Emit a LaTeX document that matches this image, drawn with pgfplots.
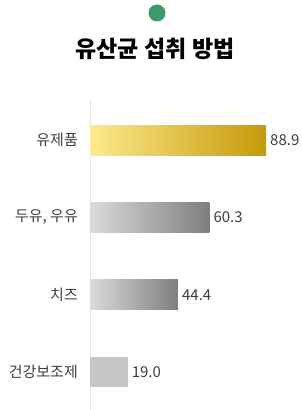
\documentclass[border=0pt]{standalone}
\usepackage{pgfplots}
\pgfplotsset{compat=1.18}
\usepackage{fontspec}
\setmainfont{Noto Sans CJK KR}
\definecolor{goldL}{HTML}{FDE98E}
\definecolor{goldM}{HTML}{F9D556}
\definecolor{goldR}{HTML}{C69A08}
\definecolor{grayL}{HTML}{DBDBDB}
\definecolor{grayM}{HTML}{BDBDBD}
\definecolor{grayR}{HTML}{7E7E7E}
\definecolor{grayF}{HTML}{C6C6C6}
\definecolor{txt}{HTML}{3E3E3E}
\definecolor{dot}{HTML}{3A9A6A}
\begin{document}
\begin{tikzpicture}
\path[use as bounding box] (0,0) rectangle (302bp,410bp);
\fill[dot] (157bp,397bp) circle (8.5bp);
\node[font=\fontsize{23bp}{26bp}\selectfont\bfseries, text=black] at (155bp,361bp) {유산균 섭취 방법};
\begin{axis}[
  scale only axis,
  width=198bp, height=310.7bp,
  anchor=north west, at={(90bp,310bp)},
  xmin=0, xmax=100,
  ymin=-0.52, ymax=3.5,
  y dir=reverse,
  axis x line=none,
  axis y line=left,
  y axis line style={-, draw=black!10, line width=1bp},
  ytick={0,1,2,3},
  yticklabels={유제품,{두유, 우유},치즈,건강보조제},
  major tick length=0pt,
  yticklabel style={font=\fontsize{15bp}{18bp}\selectfont, text=txt, anchor=east, inner sep=0pt, xshift=-12bp},
  xbar, bar width=30bp, bar shift=0pt,
  nodes near coords,
  nodes near coords style={font=\fontsize{15bp}{18bp}\selectfont, text=txt, anchor=west, inner sep=0pt, xshift=4bp, /pgf/number format/fixed, /pgf/number format/fixed zerofill, /pgf/number format/precision=1, /pgf/number format/assume math mode=true},
  clip=false,
]
\addplot[draw=none, left color=goldL, middle color=goldM, right color=goldR] coordinates {(88.9,0)};
\addplot[draw=none, left color=grayL, middle color=grayM, right color=grayR] coordinates {(60.3,1)};
\addplot[draw=none, left color=grayL, middle color=grayM, right color=grayR] coordinates {(44.4,2)};
\addplot[draw=none, fill=grayF] coordinates {(19.0,3)};
\end{axis}
\end{tikzpicture}
\end{document}
